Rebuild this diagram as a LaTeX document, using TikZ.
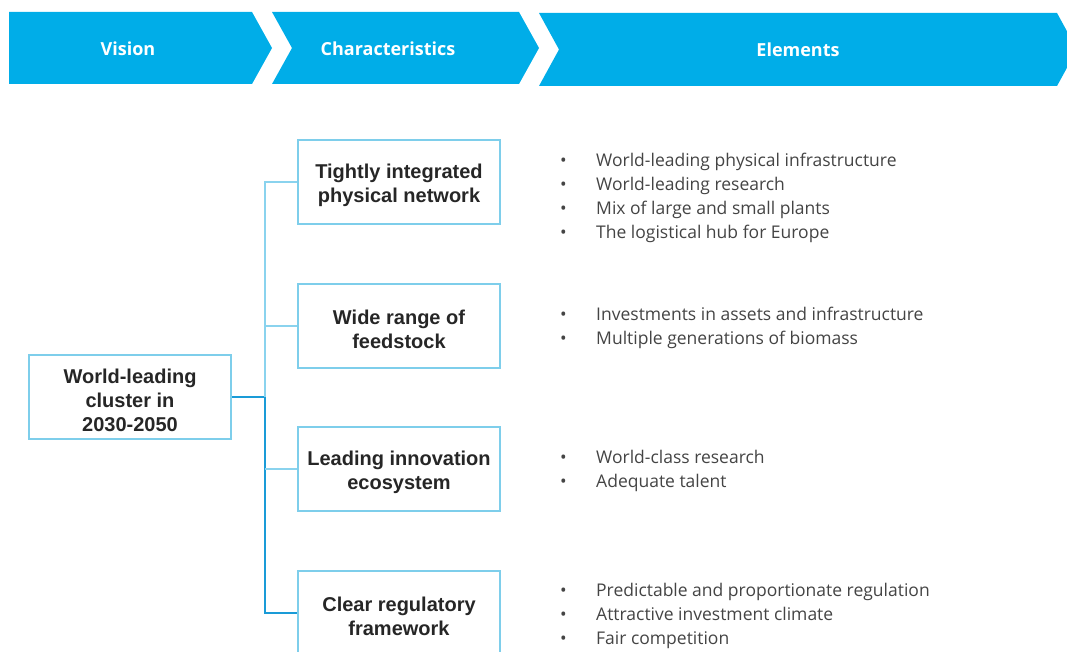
\documentclass[tikz,border=0pt]{standalone}
\usepackage{fontspec}
\setmainfont{Open Sans}
\newfontfamily\boxfont{Liberation Sans}
\usetikzlibrary{positioning}

\definecolor{headblue}{HTML}{00ADE8}
\definecolor{boxblue}{HTML}{7ECEEB}
\definecolor{linklightblue}{HTML}{8AD3EE}
\definecolor{linkdarkblue}{HTML}{1A9BD7}
\definecolor{darktext}{HTML}{262626}
\definecolor{listtext}{HTML}{444444}

\newcommand{\bul}{\makebox[36pt][l]{\textbullet}}
\newcommand{\topgap}{\rule{0pt}{22pt}}

\tikzset{
  head/.style={fill=headblue, draw=none},
  headtext/.style={text=white, font=\bfseries\fontsize{18}{22}\selectfont},
  charbox/.style={draw=boxblue, line width=2.6pt, minimum width=202pt,
    minimum height=84pt, align=center, inner sep=0pt, text=darktext,
    font=\boxfont\bfseries\fontsize{20}{24}\selectfont},
  elems/.style={anchor=west, align=left, inner sep=0pt, text=listtext,
    font=\fontsize{17.5}{24}\selectfont},
  linklight/.style={draw=linklightblue, line width=1.3pt},
  linkdark/.style={draw=linkdarkblue, line width=1.3pt}
}

\begin{document}
\begin{tikzpicture}[x=1pt,y=-1pt]
  \useasboundingbox (0,0) rectangle (1067,652);
  % header chevrons
  \fill[head](9,12)--(252,12)--(272,48)--(252,84)--(9,84)--cycle;
  \fill[head](272,12)--(519,12)--(539,48)--(519,84)--(272,84)--(292,48)--cycle;
  \fill[head](539,13)--(1057,13)--(1077,49.5)--(1057,86)--(539,86)--(559,49.5)--cycle;
  \node[headtext] (vision) at (128,49) {Vision};
  \node[headtext] (charac) at (388,49) {Characteristics};
  \node[headtext] (elem) at (798,50) {Elements};

  % vision and characteristics
  \node[charbox] (main) at (130,397) {\topgap World-leading\\cluster in\\2030-2050};
  \node[charbox] (phys) at (399,182) {\topgap Tightly integrated\\physical network};
  \node[charbox] (feed) at (399,326) {\topgap Wide range of\\feedstock};
  \node[charbox] (innov) at (399,469) {\topgap Leading innovation\\ecosystem};
  \node[charbox] (regul) at (399,613) {\topgap Clear regulatory\\framework};

  % connectors
  \coordinate (jn) at (265,397);
  \draw[linkdark](main.east)--(jn);
  \draw[linklight](jn)|-(phys.west);
  \draw[linklight](jn|-feed.west)--(feed.west);
  \draw[linkdark](jn)|-(regul.west);
  \draw[linklight](jn|-innov.west)--(innov.west);

  % elements
  \node[elems] (physel) at (560,198) {\bul World-leading physical infrastructure\\
    \bul World-leading research\\\bul Mix of large and small plants\\
    \bul The logistical hub for Europe};
  \node[elems] (feedel) at (560,328) {\bul Investments in assets and infrastructure\\
    \bul Multiple generations of biomass};
  \node[elems] (innovel) at (560,471) {\bul World-class research\\\bul Adequate talent};
  \node[elems] (regulel) at (560,616) {\bul Predictable and proportionate regulation\\
    \bul Attractive investment climate\\\bul Fair competition};
\end{tikzpicture}
\end{document}
